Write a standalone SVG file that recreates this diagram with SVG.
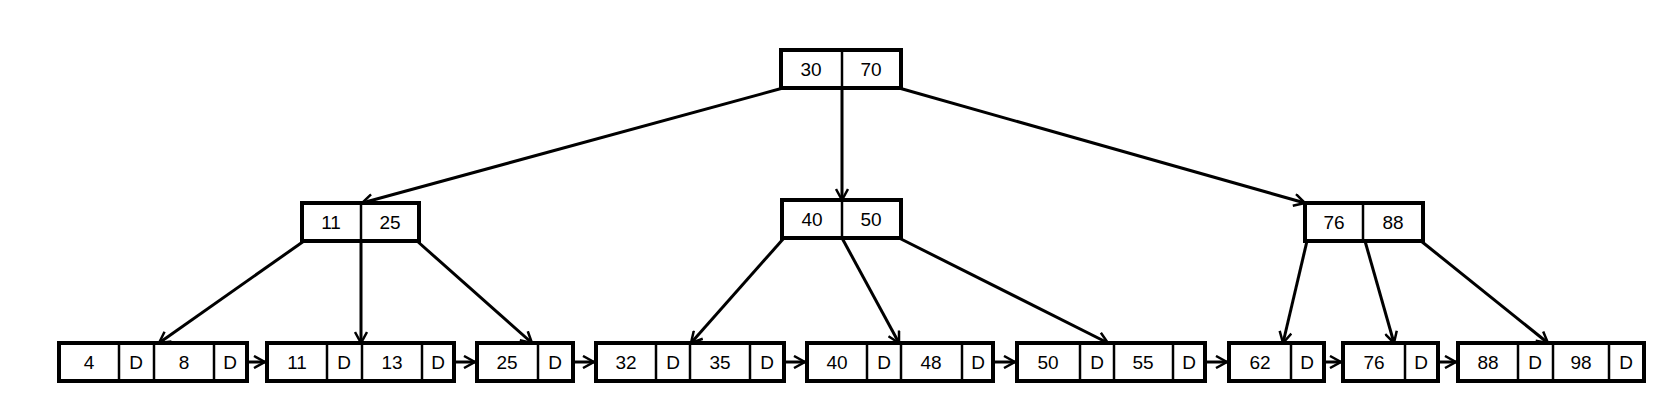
<svg xmlns="http://www.w3.org/2000/svg" width="1678" height="408" viewBox="0 0 1678 408">
<defs>
<marker id="ah" markerWidth="14" markerHeight="14" refX="12" refY="7" orient="auto" markerUnits="userSpaceOnUse"><path d="M1,1 L12,7 L1,13" fill="none" stroke="#000" stroke-width="2.5"/></marker>
<style>
.b{fill:#fff;stroke:#000;stroke-width:4}
.d{stroke:#000;stroke-width:2.5}
text{font-family:"Liberation Sans","Noto Sans CJK KR",sans-serif;font-size:19px;text-anchor:middle;fill:#000}
.c line{stroke:#000;stroke-width:3;marker-end:url(#ah)}
</style>
</defs>
<rect width="1678" height="408" fill="#fff"/>
<g class="c" id="connectors">
<line x1="783" y1="88" x2="362" y2="203"/>
<line x1="842" y1="88" x2="842" y2="200"/>
<line x1="899" y1="88" x2="1305" y2="203"/>
<line x1="304" y1="241" x2="159" y2="343"/>
<line x1="361" y1="241" x2="361" y2="343"/>
<line x1="417" y1="241" x2="532" y2="343"/>
<line x1="784" y1="238" x2="691" y2="343"/>
<line x1="842" y1="238" x2="899" y2="343"/>
<line x1="899" y1="238" x2="1108" y2="343"/>
<line x1="1307" y1="241" x2="1283" y2="343"/>
<line x1="1365" y1="241" x2="1394" y2="343"/>
<line x1="1421" y1="241" x2="1548" y2="343"/>
<line x1="247" y1="362" x2="265" y2="362"/>
<line x1="454" y1="362" x2="475" y2="362"/>
<line x1="573" y1="362" x2="594" y2="362"/>
<line x1="784" y1="362" x2="805" y2="362"/>
<line x1="993" y1="362" x2="1015" y2="362"/>
<line x1="1205" y1="362" x2="1227" y2="362"/>
<line x1="1324" y1="362" x2="1341" y2="362"/>
<line x1="1438" y1="362" x2="1456" y2="362"/>
</g>
<g id="root"><rect class="b" x="781" y="50" width="120" height="38"/><line class="d" x1="842" y1="50" x2="842" y2="88"/><text x="811" y="76">30</text><text x="871" y="76">70</text></g>
<g id="n1125"><rect class="b" x="302" y="203" width="117" height="38"/><line class="d" x1="361" y1="203" x2="361" y2="241"/><text x="331" y="229">11</text><text x="390" y="229">25</text></g>
<g id="n4050"><rect class="b" x="782" y="200" width="119" height="38"/><line class="d" x1="842" y1="200" x2="842" y2="238"/><text x="812" y="226">40</text><text x="871" y="226">50</text></g>
<g id="n7688"><rect class="b" x="1305" y="203" width="118" height="38"/><line class="d" x1="1363" y1="203" x2="1363" y2="241"/><text x="1334" y="229">76</text><text x="1393" y="229">88</text></g>
<g id="leaf1"><rect class="b" x="59" y="343" width="188" height="38"/><line class="d" x1="119" y1="343" x2="119" y2="381"/><line class="d" x1="154" y1="343" x2="154" y2="381"/><line class="d" x1="214" y1="343" x2="214" y2="381"/><text x="89" y="369">4</text><text x="136" y="369">D</text><text x="184" y="369">8</text><text x="230" y="369">D</text></g>
<g id="leaf2"><rect class="b" x="267" y="343" width="187" height="38"/><line class="d" x1="327" y1="343" x2="327" y2="381"/><line class="d" x1="362" y1="343" x2="362" y2="381"/><line class="d" x1="422" y1="343" x2="422" y2="381"/><text x="297" y="369">11</text><text x="344" y="369">D</text><text x="392" y="369">13</text><text x="438" y="369">D</text></g>
<g id="leaf3"><rect class="b" x="477" y="343" width="96" height="38"/><line class="d" x1="538" y1="343" x2="538" y2="381"/><text x="507" y="369">25</text><text x="555" y="369">D</text></g>
<g id="leaf4"><rect class="b" x="596" y="343" width="188" height="38"/><line class="d" x1="656" y1="343" x2="656" y2="381"/><line class="d" x1="690" y1="343" x2="690" y2="381"/><line class="d" x1="750" y1="343" x2="750" y2="381"/><text x="626" y="369">32</text><text x="673" y="369">D</text><text x="720" y="369">35</text><text x="767" y="369">D</text></g>
<g id="leaf5"><rect class="b" x="807" y="343" width="186" height="38"/><line class="d" x1="867" y1="343" x2="867" y2="381"/><line class="d" x1="901" y1="343" x2="901" y2="381"/><line class="d" x1="962" y1="343" x2="962" y2="381"/><text x="837" y="369">40</text><text x="884" y="369">D</text><text x="931" y="369">48</text><text x="978" y="369">D</text></g>
<g id="leaf6"><rect class="b" x="1017" y="343" width="188" height="38"/><line class="d" x1="1080" y1="343" x2="1080" y2="381"/><line class="d" x1="1114" y1="343" x2="1114" y2="381"/><line class="d" x1="1173" y1="343" x2="1173" y2="381"/><text x="1048" y="369">50</text><text x="1097" y="369">D</text><text x="1143" y="369">55</text><text x="1189" y="369">D</text></g>
<g id="leaf7"><rect class="b" x="1229" y="343" width="95" height="38"/><line class="d" x1="1291" y1="343" x2="1291" y2="381"/><text x="1260" y="369">62</text><text x="1307" y="369">D</text></g>
<g id="leaf8"><rect class="b" x="1343" y="343" width="95" height="38"/><line class="d" x1="1405" y1="343" x2="1405" y2="381"/><text x="1374" y="369">76</text><text x="1421" y="369">D</text></g>
<g id="leaf9"><rect class="b" x="1458" y="343" width="186" height="38"/><line class="d" x1="1518" y1="343" x2="1518" y2="381"/><line class="d" x1="1553" y1="343" x2="1553" y2="381"/><line class="d" x1="1609" y1="343" x2="1609" y2="381"/><text x="1488" y="369">88</text><text x="1535" y="369">D</text><text x="1581" y="369">98</text><text x="1626" y="369">D</text></g>
</svg>
